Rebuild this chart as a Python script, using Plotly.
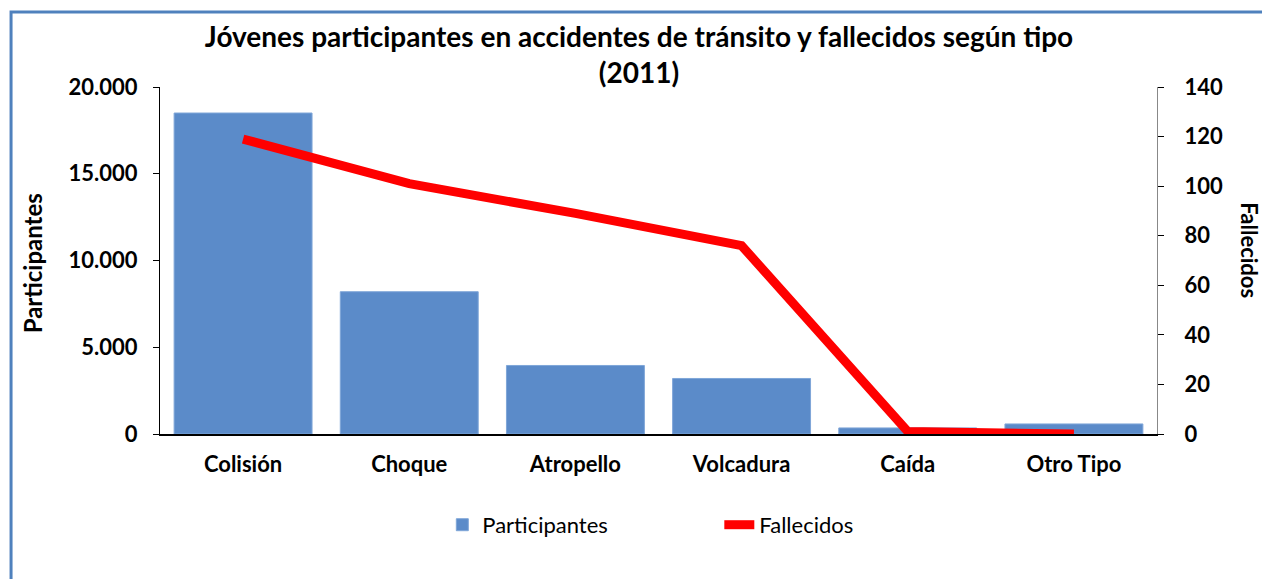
import plotly.graph_objects as go

tipos = ['Colisión', 'Choque', 'Atropello', 'Volcadura', 'Caída', 'Otro Tipo']
participantes = [18500, 8200, 3950, 3200, 350, 580]
fallecidos = [119, 101, 89, 76, 1, 0]

FONT = 'Lato'
AZUL = '#5B8BC9'
ROJO = '#FF0000'

fig = go.Figure()

fig.add_trace(go.Bar(
    x=tipos, y=participantes, name='Participantes',
    marker=dict(color=AZUL, line=dict(color='#7FA6D8', width=1)),
    yaxis='y'
))

fig.add_trace(go.Scatter(
    x=tipos, y=fallecidos, name='Fallecidos', mode='lines',
    line=dict(color=ROJO, width=9),
    yaxis='y2'
))

fig.update_layout(
    width=1262, height=571,
    margin=dict(l=152, r=113, t=79, b=145),
    plot_bgcolor='white',
    paper_bgcolor='white',
    separators=',.',
    bargap=0.17,
    font=dict(family=FONT, color='black'),
    title=dict(
        text='Jóvenes participantes en accidentes de tránsito y fallecidos según tipo<br>(2011)',
        x=0.5, xanchor='center', yref='container', y=0.932, yanchor='top',
        font=dict(family=FONT, size=28, weight='bold', color='black')
    ),
    xaxis=dict(
        showgrid=False, showline=True, linecolor='black', linewidth=1.5,
        ticks='', tickfont=dict(size=22, weight='bold'),
        ticklabelstandoff=10
    ),
    yaxis=dict(
        range=[0, 20000], dtick=5000, tickformat=',d',
        showgrid=False, showline=True, linecolor='black', linewidth=1,
        ticks='outside', ticklen=6, tickcolor='black',
        tickfont=dict(size=22, weight='bold'),
        ticklabelstandoff=11, zeroline=False
    ),
    yaxis2=dict(
        range=[0, 140], dtick=20, overlaying='y', side='right',
        showgrid=False, showline=True, linecolor='#888888', linewidth=1,
        ticks='outside', ticklen=6, tickcolor='black',
        tickfont=dict(size=22, weight='bold'),
        ticklabelstandoff=16, zeroline=False
    ),
    showlegend=True,
    legend=dict(
        orientation='h', x=0.561, xanchor='center', y=-0.262, yanchor='middle',
        font=dict(size=22, family=FONT), entrywidth=232, entrywidthmode='pixels',
        bgcolor='rgba(0,0,0,0)'
    ),
    annotations=[
        dict(text='Participantes', xref='paper', yref='paper',
             x=-0.127, y=0.493, xanchor='center', yanchor='middle',
             textangle=-90, showarrow=False,
             font=dict(size=24, weight='bold', family=FONT)),
        dict(text='Fallecidos', xref='paper', yref='paper',
             x=1.093, y=0.530, xanchor='center', yanchor='middle',
             textangle=90, showarrow=False,
             font=dict(size=22, weight='bold', family=FONT)),
    ],
    shapes=[
        dict(type='rect', xref='paper', yref='paper',
             x0=-0.1494, x1=1.2, y0=-0.6, y1=1.216,
             line=dict(color='#4F81BD', width=3), layer='below')
    ]
)

fig.write_html('out.html')
